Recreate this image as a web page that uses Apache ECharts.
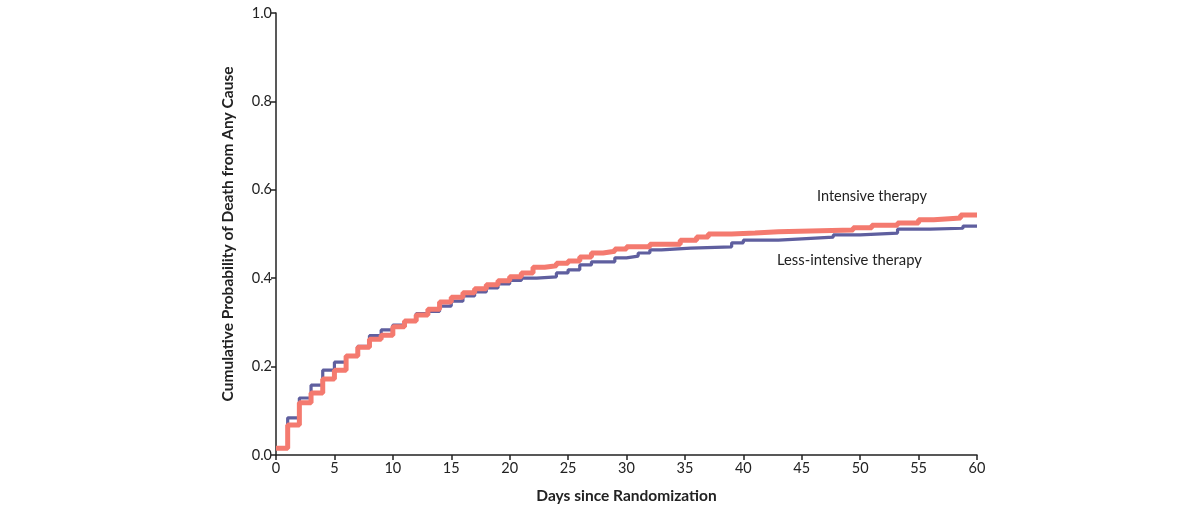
<!DOCTYPE html>
<html>
<head>
<meta charset="utf-8">
<script src="https://cdn.jsdelivr.net/npm/echarts@6/dist/echarts.min.js"></script>
<style>html,body{margin:0;padding:0;background:#fff;}#c{width:1200px;height:513px;}</style>
</head>
<body>
<div id="c"></div>
<script>
// Step event days and cumulative probability after each step
const intensiveDays = [0,1,2,3,4,5,6,7,8,9,10,11,12,13,14,15,16,17,18,19,20,21,22,23,24,25,26,27,28,29,30,32,34.6,36,37,39,41,43,49.4,51,53.2,55,56.3,58.6,60];
const intensiveVals = [0.015,0.068,0.118,0.140,0.172,0.192,0.224,0.244,0.262,0.271,0.290,0.303,0.317,0.330,0.346,0.357,0.367,0.376,0.385,0.394,0.403,0.412,0.425,0.428,0.434,0.439,0.448,0.457,0.461,0.466,0.471,0.477,0.486,0.493,0.500,0.502,0.505,0.509,0.514,0.520,0.525,0.532,0.536,0.543,0.543];
const lessDays = [0,1,2,3,4,5,6,7,8,9,10,11,12,13,14,15,16,17,18,19,20,21,22.3,24,25,26,27,29,30,31,32,33,35.5,39,40,43,45,47.7,50,53.2,56,58.8,60];
const lessVals = [0.015,0.084,0.129,0.158,0.192,0.210,0.224,0.246,0.270,0.283,0.294,0.303,0.320,0.325,0.337,0.348,0.360,0.369,0.378,0.387,0.395,0.400,0.403,0.412,0.419,0.430,0.437,0.446,0.450,0.457,0.464,0.468,0.471,0.480,0.486,0.489,0.493,0.498,0.502,0.511,0.513,0.518,0.518];
const xTicks = [0,5,10,15,20,25,30,35,40,45,50,55,60];
const yTicks = [0.0,0.2,0.4,0.6,0.8,1.0];
const seriesNames = ['Intensive therapy','Less-intensive therapy'];
const xName = 'Days since Randomization';
const yName = 'Cumulative Probability of Death from Any Cause';

const pair = (d, v) => d.map((x, i) => [x, v[i]]);
const chart = echarts.init(document.getElementById('c'));
const font = 'Lato, "Open Sans", sans-serif';
chart.setOption({
  animation: false,
  backgroundColor: '#fff',
  grid: {left: 276, right: 223, top: 13, bottom: 58},
  xAxis: {
    type: 'value', min: 0, max: 60, interval: 5,
    name: xName, nameLocation: 'middle', nameGap: 33,
    nameTextStyle: {fontFamily: font, fontWeight: 'bold', fontSize: 15.5, color: '#222'},
    axisLine: {show: true, lineStyle: {color: '#222', width: 1.5}},
    axisTick: {show: true, length: 5, lineStyle: {color: '#222', width: 1.5}},
    axisLabel: {fontFamily: font, fontSize: 14.5, color: '#222', margin: 6},
    splitLine: {show: false}
  },
  yAxis: {
    type: 'value', min: 0, max: 1, interval: 0.2,
    name: yName, nameLocation: 'middle', nameGap: 40, nameRotate: 90,
    nameTextStyle: {fontFamily: font, fontWeight: 'bold', fontSize: 15.5, color: '#222'},
    axisLine: {show: true, lineStyle: {color: '#222', width: 1.5}},
    axisTick: {show: true, length: 5, lineStyle: {color: '#222', width: 1.5}},
    axisLabel: {fontFamily: font, fontSize: 14.5, color: '#222', margin: 4,
      formatter: v => v.toFixed(1)},
    splitLine: {show: false}
  },
  series: [
    {
      name: seriesNames[1], type: 'line', step: 'end', symbol: 'none',
      data: pair(lessDays, lessVals), z: 2,
      lineStyle: {color: '#5f5f9f', width: 3.2}
    },
    {
      name: seriesNames[0], type: 'line', step: 'end', symbol: 'none',
      data: pair(intensiveDays, intensiveVals), z: 3,
      lineStyle: {color: '#f47a6f', width: 5}
    }
  ],
  graphic: [
    {type: 'text', left: 817, top: 189, style: {text: seriesNames[0], font: '14.5px ' + font, fill: '#222'}},
    {type: 'text', left: 777, top: 253, style: {text: seriesNames[1], font: '14.8px ' + font, fill: '#222'}}
  ]
});
</script>
</body>
</html>
